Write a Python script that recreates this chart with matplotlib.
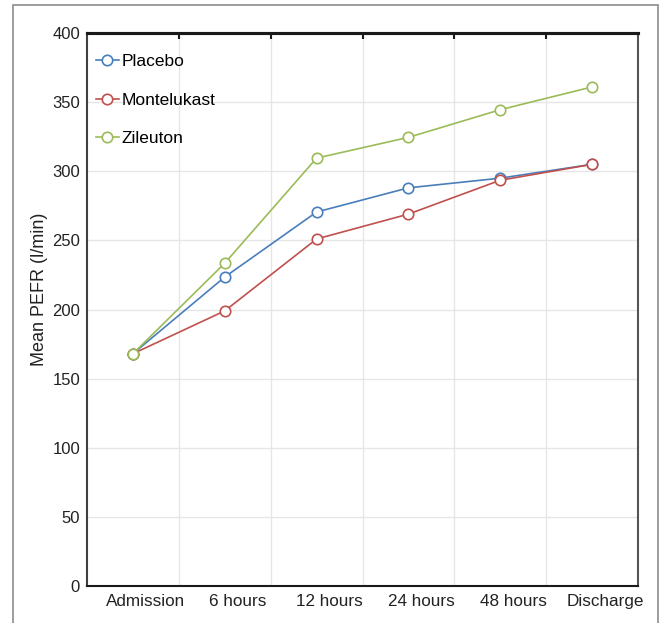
import numpy as np
import matplotlib.pyplot as plt
from matplotlib.patches import Rectangle

plt.rcParams['font.family'] = ['Liberation Sans', 'DejaVu Sans']

timepoints = ["Admission", "6 hours", "12 hours", "24 hours", "48 hours", "Discharge"]
placebo = [168, 223.5, 270.5, 288, 295, 305]
montelukast = [168, 199, 251, 269, 293.5, 305]
zileuton = [168, 233.5, 309.5, 324.5, 344.5, 361]

series = [
    ("Placebo", placebo, "#4a7ebb"),
    ("Montelukast", montelukast, "#c0504d"),
    ("Zileuton", zileuton, "#9bbb59"),
]

fig = plt.figure(figsize=(6.59, 6.23), dpi=100)
ax = fig.add_axes([87/659, 1 - 586/623, (638 - 87)/659, (586 - 33)/623])

# outer frame around the whole chart
fig.patches.append(Rectangle((13/659, -0.05), (658 - 13)/659, 1.05 - 5/623,
                             transform=fig.transFigure, fill=False,
                             edgecolor="#8c8c8c", linewidth=1.2))

x = np.arange(len(timepoints))
for name, vals, col in series:
    ax.plot(x, vals, color=col, linewidth=1.2, marker="o", markersize=7.5,
            markerfacecolor="white", markeredgecolor=col, markeredgewidth=1.2,
            label=name)

ax.set_xlim(-0.5, len(timepoints) - 0.5)
ax.set_ylim(0, 400)
ax.set_yticks(np.arange(0, 401, 50))

# grid at category boundaries
for b in np.arange(0.5, len(timepoints) - 0.5, 1):
    ax.axvline(b, color="#e6e6e6", linewidth=1, zorder=0)
ax.yaxis.grid(True, color="#e6e6e6", linewidth=1)
ax.set_axisbelow(True)

# category labels sit a little right of the points in the original
ax.set_xticks(x + 0.14)
ax.set_xticklabels(timepoints)
ax.tick_params(axis="x", length=0, pad=6, labelsize=12.3, colors="#222222")
ax.tick_params(axis="y", length=0, pad=5, labelsize=12, colors="#222222")

# inward ticks on the top spine at the category boundaries
ax2 = ax.secondary_xaxis("top")
ax2.set_xticks(np.arange(0.5, len(timepoints) - 0.5, 1))
ax2.set_xticklabels([])
ax2.tick_params(direction="in", length=4, width=1.5, color="#1a1a1a")
ax2.spines["top"].set_linewidth(2.2)
ax2.spines["top"].set_color("#1a1a1a")

ax.spines["top"].set_linewidth(2.2)
ax.spines["top"].set_color("#1a1a1a")
ax.spines["bottom"].set_linewidth(1.5)
ax.spines["bottom"].set_color("#1a1a1a")
ax.spines["left"].set_linewidth(1.5)
ax.spines["left"].set_color("#404040")
ax.spines["right"].set_linewidth(1.5)
ax.spines["right"].set_color("#555555")

ax.set_ylabel("Mean PEFR (l/min)", fontsize=13, color="#222222")
ax.yaxis.set_label_coords(-0.0706, 0.537)

ax.legend(loc="upper left", bbox_to_anchor=(0.0, 0.978), frameon=False,
          fontsize=12.5, handlelength=1.35, handletextpad=0.15,
          labelspacing=1.35, borderaxespad=0.2, borderpad=0.3)

fig.savefig("out.png", dpi=100)
